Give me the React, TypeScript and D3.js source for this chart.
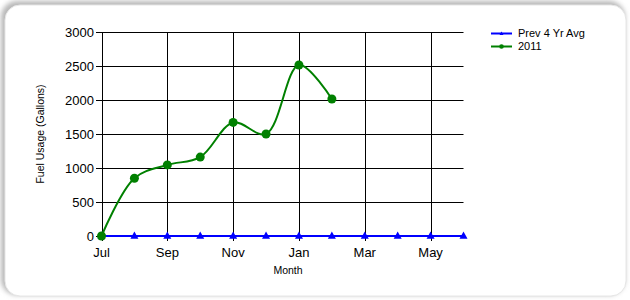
import React from "react";
import * as d3 from "d3";

const months = ["Jul", "Aug", "Sep", "Oct", "Nov", "Dec", "Jan", "Feb", "Mar", "Apr", "May", "Jun"];
const tickMonths = ["Jul", "Sep", "Nov", "Jan", "Mar", "May"];
const prevAvg = [0, 0, 0, 0, 0, 0, 0, 0, 0, 0, 0, 0];
const usage2011 = [0, 850, 1045, 1160, 1670, 1500, 2515, 2015];
const yTicks = [0, 500, 1000, 1500, 2000, 2500, 3000];
const seriesNames = ["Prev 4 Yr Avg", "2011"];

export default function App() {
  const W = 630, H = 300;
  const x = d3.scaleLinear().domain([0, 11]).range([101.5, 463.5]);
  const y = d3.scaleLinear().domain([0, 3000]).range([236, 32]);
  const font = "'Liberation Sans', Arial, sans-serif";

  const line = d3.line<number>()
    .x((_, i) => x(i))
    .y((d) => y(d))
    .curve(d3.curveCatmullRom.alpha(0.5));
  const flat = d3.line<number>().x((_, i) => x(i)).y((d) => y(d));

  const tri = (cx: number, cy: number, s: number) =>
    `M${cx},${cy - s}L${cx + s},${cy + s * 0.8}L${cx - s},${cy + s * 0.8}Z`;

  return (
    <svg width={W} height={H} style={{ position: "absolute", left: 0, top: 0 }}>
      <defs>
        <filter id="sh" x="-5%" y="-5%" width="110%" height="110%">
          <feGaussianBlur stdDeviation="2.5" />
        </filter>
      </defs>
      <rect x={0} y={0} width={W} height={H} fill="#fff" />
      <rect x={1} y={1} width={624} height={294} rx={16} fill="#b8b8b8" filter="url(#sh)" />
      <rect x={5} y={5} width={621} height={291} rx={15} fill="#fff" stroke="#e6e6e6" strokeWidth={1} />

      {/* horizontal gridlines */}
      {yTicks.map((t) => (
        <g key={"h" + t}>
          <line x1={96} x2={463.5} y1={Math.round(y(t)) + 0.5} y2={Math.round(y(t)) + 0.5} stroke="#000" />
          <text x={94} y={y(t)} dy="0.36em" textAnchor="end" fontFamily={font} fontSize={13} fill="#000">
            {t}
          </text>
        </g>
      ))}
      {/* vertical gridlines */}
      {tickMonths.map((m) => {
        const i = months.indexOf(m);
        const px = Math.round(x(i)) + 0.5;
        return (
          <g key={"v" + m}>
            <line x1={px} x2={px} y1={32} y2={241} stroke="#000" />
            <text x={x(i)} y={257} textAnchor="middle" fontFamily={font} fontSize={13} fill="#000">
              {m}
            </text>
          </g>
        );
      })}

      {/* Prev 4 Yr Avg series */}
      <path d={flat(prevAvg) || ""} fill="none" stroke="#0000ff" strokeWidth={2} />
      {prevAvg.map((d, i) => (
        <path key={"t" + i} d={tri(x(i), y(d) - 0.5, 4)} fill="#0000ff" />
      ))}

      {/* 2011 series */}
      <path d={line(usage2011) || ""} fill="none" stroke="#008000" strokeWidth={2} />
      {usage2011.map((d, i) => (
        <circle key={"c" + i} cx={x(i)} cy={y(d)} r={4.5} fill="#008000" />
      ))}

      {/* axis titles */}
      <text x={288} y={274} textAnchor="middle" fontFamily={font} fontSize={10.5} fill="#000">
        Month
      </text>
      <text
        transform={`translate(44,${(32 + 236) / 2}) rotate(-90)`}
        textAnchor="middle"
        fontFamily={font}
        fontSize={10.5}
        fill="#000"
      >
        Fuel Usage (Gallons)
      </text>

      {/* legend */}
      {seriesNames.map((n, i) => {
        const ly = 33.5 + i * 13;
        const c = i === 0 ? "#0000ff" : "#008000";
        return (
          <g key={"l" + n}>
            <line x1={491} x2={512} y1={ly} y2={ly} stroke={c} strokeWidth={2} />
            {i === 0 ? (
              <path d={tri(501.5, ly, 2)} fill={c} />
            ) : (
              <circle cx={501.5} cy={ly} r={2.3} fill={c} />
            )}
            <text x={518} y={ly} dy="0.36em" fontFamily={font} fontSize={11} fill="#000">
              {n}
            </text>
          </g>
        );
      })}
    </svg>
  );
}
